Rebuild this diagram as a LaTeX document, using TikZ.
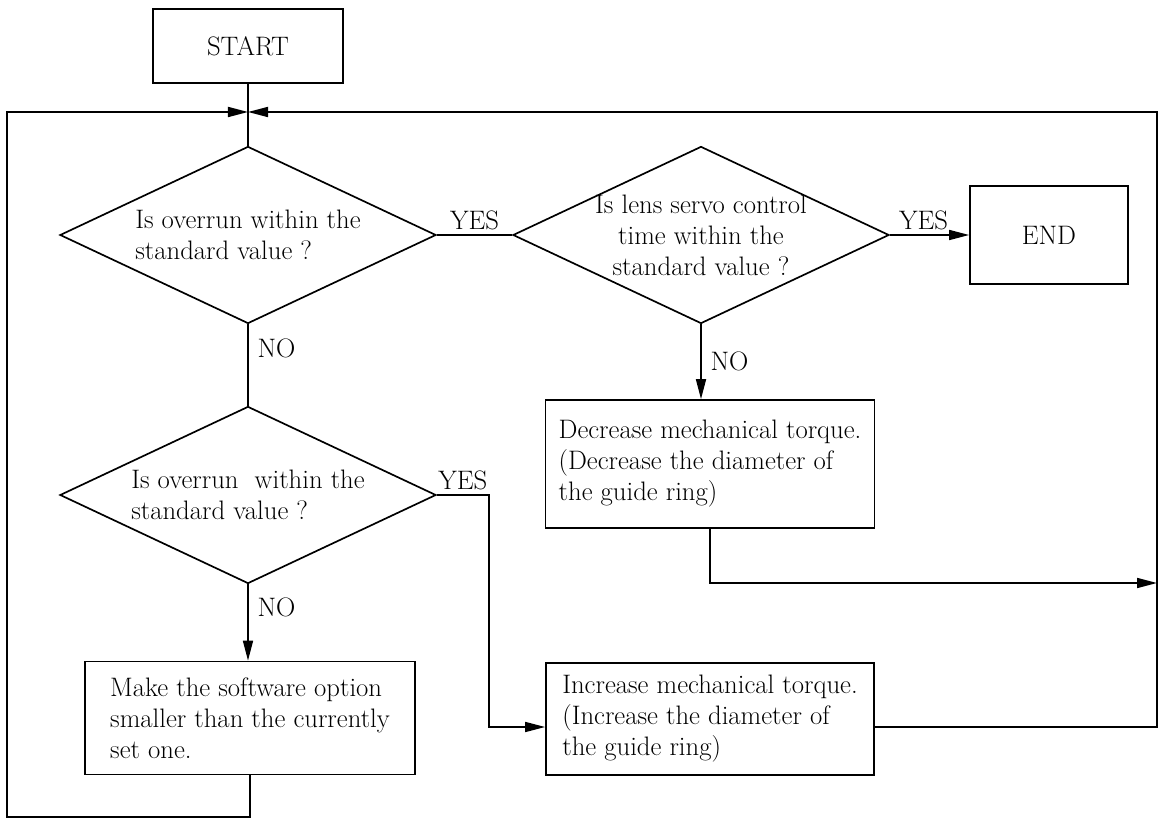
\documentclass[tikz,border=0pt]{standalone}
\usepackage{fontspec}
\usetikzlibrary{shapes.geometric,arrows.meta}

\tikzset{
  box/.style={draw, line width=1.2pt, align=left, inner sep=0pt},
  test/.style={draw, diamond, line width=1.2pt, shape aspect=2.1, inner sep=-0.2cm,
    minimum width=9.4cm, minimum height=4.425cm},
  line/.style={line width=1.2pt},
  flow/.style={line width=1.2pt, -{Triangle[length=0.5cm,width=0.25cm]}},
}

\begin{document}
\begin{tikzpicture}[x=0.025cm, y=-0.025cm, font=\fontsize{19}{22}\selectfont]
  \useasboundingbox (0,0) rectangle (1159,819);

  \node[box, minimum width=4.75cm, minimum height=1.85cm] (start) at (248,46) {START};
  \coordinate (join) at (248,112);

  \node[test, align=left] (q1) at (248,235) {Is overrun within the\\standard value ?};
  \node[test, align=center] (q2) at (701,235) {Is lens servo control\\time within the\\standard value ?};
  \node[box, minimum width=3.95cm, minimum height=2.45cm] (stop) at (1049,235) {END};

  \node[box, minimum width=8.225cm, minimum height=3.2cm] (dec) at (710,464)
    {Decrease mechanical torque.\\(Decrease the diameter of\\the guide ring)};

  \node[test, align=left] (q3) at (248,495) {Is overrun\ \ within the\\standard value ?};

  \node[box, minimum width=8.25cm, minimum height=2.825cm] (make) at (250,718)
    {Make the software option\\smaller than the currently\\set one.};
  \node[box, minimum width=8.2cm, minimum height=2.8cm] (inc) at (710,719)
    {Increase mechanical torque.\\(Increase the diameter of\\the guide ring)};

  \coordinate (left) at (7,817);
  \coordinate (right) at (1157,727);
  \coordinate (mid) at (1157,583);

  \draw[line] (start) -- (q1);
  \draw[line] (q1.east) -- node[above] {YES} (q2.west);
  \draw[flow] (q2.east) -- node[above, xshift=-0.15cm] {YES} (stop.west);
  \draw[flow] (q2.south) -- node[right, xshift=0.1cm] {NO} (q2.south |- dec.north);
  \draw[line] (q1.south) -- node[right, pos=0.3, xshift=0.1cm] {NO} (q3.north);
  \draw[flow] (q3.south) -- node[right, pos=0.3, xshift=0.1cm] {NO} (q3.south |- make.north);
  \draw[flow] (q3.east) -- node[above] {YES} ++(52,0) |- ([yshift=-0.2cm]inc.west);

  \draw[flow] (dec.south) |- (mid);
  \draw[flow] ([yshift=-0.2cm]inc.east) -- (right) |- (join);
  \draw[flow] (make.south) |- (left) |- (join);
\end{tikzpicture}
\end{document}
